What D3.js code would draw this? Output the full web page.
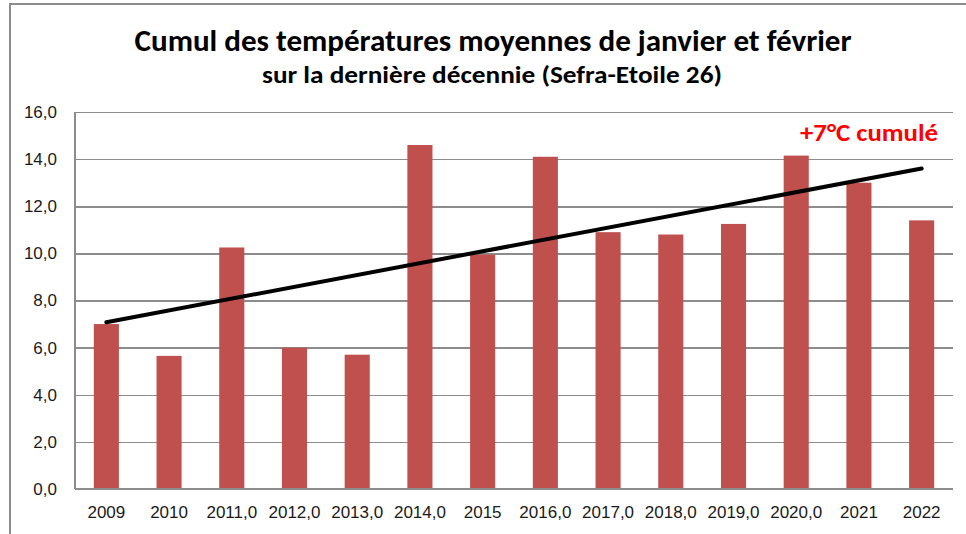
<html>
<head>
<meta charset="utf-8">
<script src="https://d3js.org/d3.v7.min.js"></script>
<style>
body { margin: 0; background: #fff; }
svg { display: block; font-family: Carlito, Lato, "Open Sans", sans-serif; }
.grid line { stroke: #8c8c8c; stroke-width: 1.5px; shape-rendering: crispEdges; }
.grid path { stroke-width: 0; }
.axis path, .axis line { stroke: #8c8c8c; stroke-width: 1.5px; shape-rendering: crispEdges; }
.axis text { font-size: 17px; fill: #1a1a1a; }
</style>
</head>
<body>
<div id="chart"></div>
<script>
// data
var years = ["2009", "2010", "2011,0", "2012,0", "2013,0", "2014,0", "2015",
             "2016,0", "2017,0", "2018,0", "2019,0", "2020,0", "2021", "2022"];
var cumul = [7.0, 5.65, 10.25, 6.0, 5.7, 14.6, 9.95, 14.1, 10.9, 10.8, 11.25, 14.15, 13.0, 11.4];
var yTicks = [0, 2, 4, 6, 8, 10, 12, 14, 16];

var W = 966, H = 534;
var margin = {top: 112, right: 13, bottom: 45, left: 75};
var width = W - margin.left - margin.right,
    height = H - margin.top - margin.bottom;

var svg = d3.select("#chart").append("svg")
  .attr("width", W)
  .attr("height", H);

// chart frame
svg.append("path")
  .attr("d", "M10,540 L10,4 L970,4")
  .attr("fill", "none")
  .attr("stroke", "#8c8c8c")
  .attr("stroke-width", 2);

// titles
svg.append("text")
  .attr("x", 493).attr("y", 51)
  .attr("text-anchor", "middle")
  .attr("textLength", 717).attr("lengthAdjust", "spacingAndGlyphs")
  .style("font-size", "30px").style("font-weight", "bold")
  .text("Cumul des températures moyennes de janvier et février");
svg.append("text")
  .attr("x", 492).attr("y", 83)
  .attr("text-anchor", "middle")
  .attr("textLength", 460).attr("lengthAdjust", "spacingAndGlyphs")
  .style("font-size", "24px").style("font-weight", "bold")
  .text("sur la dernière décennie (Sefra-Etoile 26)");

var g = svg.append("g")
  .attr("transform", "translate(" + margin.left + "," + margin.top + ")");

var x = d3.scaleBand().domain(years).range([0, width]).paddingInner(0.6).paddingOuter(0.3);
var y = d3.scaleLinear().domain([0, 16]).range([height, 0]);

// grid lines
g.append("g")
  .attr("class", "grid")
  .call(d3.axisLeft(y).tickValues(yTicks).tickSize(-width).tickFormat(""));

// bars
g.selectAll(".bar")
  .data(cumul)
  .enter().append("rect")
  .attr("class", "bar")
  .attr("x", function(d, i) { return x(years[i]); })
  .attr("y", function(d) { return y(d); })
  .attr("width", x.bandwidth())
  .attr("height", function(d) { return height - y(d); })
  .attr("fill", "#c0504d");

// axes
var fmt = function(d) { return d3.format(".1f")(d).replace(".", ","); };
g.append("g")
  .attr("class", "axis")
  .call(d3.axisLeft(y).tickValues(yTicks).tickSize(0).tickPadding(18).tickFormat(fmt))
  .call(function(s) { s.select(".domain").attr("d", "M0,0V" + height); });

g.append("g")
  .attr("class", "axis")
  .attr("transform", "translate(0," + height + ")")
  .call(d3.axisBottom(x).tickSize(0).tickPadding(17))
  .call(function(s) { s.select(".domain").attr("d", "M0,0H" + width); });

// linear trend (least squares on the bars)
var idx = d3.range(cumul.length);
var mx = d3.mean(idx), my = d3.mean(cumul);
var slope = d3.sum(idx, function(i) { return (i - mx) * (cumul[i] - my); }) /
            d3.sum(idx, function(i) { return (i - mx) * (i - mx); });
var icpt = my - slope * mx;
var trend = [0, cumul.length - 1].map(function(i) { return {k: years[i], v: icpt + slope * i}; });

g.append("path")
  .datum(trend)
  .attr("fill", "none")
  .attr("stroke", "#000")
  .attr("stroke-width", 4)
  .attr("stroke-linecap", "round")
  .attr("d", d3.line()
    .x(function(d) { return x(d.k) + x.bandwidth() / 2; })
    .y(function(d) { return y(d.v); }));

// annotation
svg.append("text")
  .attr("x", 869).attr("y", 141)
  .attr("text-anchor", "middle")
  .attr("textLength", 138).attr("lengthAdjust", "spacingAndGlyphs")
  .style("font-size", "25px").style("font-weight", "bold")
  .attr("fill", "#ff0000")
  .text("+7°C cumulé");
</script>
</body>
</html>
